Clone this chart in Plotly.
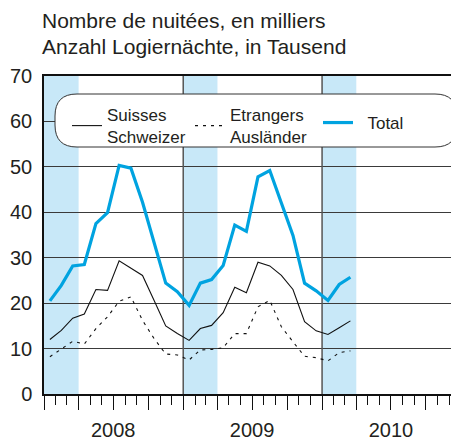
import plotly.graph_objects as go

months = ["2008-01","2008-02","2008-03","2008-04","2008-05","2008-06","2008-07","2008-08","2008-09","2008-10","2008-11","2008-12",
          "2009-01","2009-02","2009-03","2009-04","2009-05","2009-06","2009-07","2009-08","2009-09","2009-10","2009-11","2009-12",
          "2010-01","2010-02","2010-03"]
suisses = [12.0,14.0,16.7,17.6,23.0,22.8,29.3,27.6,26.1,20.6,15.0,13.3,
           11.8,14.4,15.1,17.9,23.5,22.3,29.0,28.2,26.1,23.0,15.9,13.9,
           13.1,14.6,16.1]
etrangers = [8.2,10.0,11.6,11.0,14.4,17.0,20.4,21.4,16.2,12.2,8.8,8.6,
             7.5,9.7,9.8,10.2,13.3,13.3,19.2,20.6,14.8,11.5,8.3,8.0,
             7.3,9.1,9.5]
total = [20.5,23.9,28.2,28.5,37.5,39.9,50.3,49.7,42.2,33.2,24.4,22.5,
         19.5,24.4,25.2,28.3,37.2,35.8,47.8,49.2,41.8,34.9,24.4,22.7,
         20.6,24.1,25.7]
names = ["Suisses<br>Schweizer", "Etrangers<br>Ausländer", "\u00a0\u00a0Total"]
shade_periods = [("2008-01-01","2008-04-01"),("2009-01-01","2009-04-01"),("2010-01-01","2010-04-01")]
year_lines = ["2009-01-01","2010-01-01"]
quarter_ticks = ["2008-01-01","2008-04-01","2008-07-01","2008-10-01","2009-01-01","2009-04-01","2009-07-01","2009-10-01",
                 "2010-01-01","2010-04-01","2010-07-01","2010-10-01","2011-01-01"]
year_label_pos = ["2008-07-01","2009-07-01","2010-07-01"]
year_labels = ["2008","2009","2010"]
title_lines = ["Nombre de nuitées, en milliers", "Anzahl Logiernächte, in Tausend"]
x_range = ["2008-01-01", "2011-01-17"]

TXT = "#231f20"
FONT = "Liberation Sans, Arial, sans-serif"
W, H = 459, 441
OFF = 8                      # page body margin
LV, TV, BOTV = 44, 76, 394   # plot area in window pixels
L, T = LV - OFF, TV - OFF
B = H - (BOTV - OFF)
R = 0
pw, ph = W - L - R, H - T - B

def px(xv):
    return (xv - LV) / pw

def py(yv):
    return (BOTV - yv) / ph

fig = go.Figure()
fig.add_trace(go.Scatter(x=months, y=suisses, name=names[0], mode="lines",
                         line=dict(color="#111111", width=1.1), legend="legend",
                         xperiod="M1", xperiodalignment="middle"))
fig.add_trace(go.Scatter(x=months, y=etrangers, name=names[1], mode="lines",
                         line=dict(color="#111111", width=1.1, dash="3px,5px"), legend="legend",
                         xperiod="M1", xperiodalignment="middle"))
fig.add_trace(go.Scatter(x=months, y=total, name=names[2], mode="lines",
                         line=dict(color="#00a3e0", width=3.2), legend="legend2",
                         xperiod="M1", xperiodalignment="middle"))
fig.add_trace(go.Scatter(x=year_label_pos, y=[None]*3, xaxis="x2", showlegend=False, hoverinfo="skip"))

shapes = []
for a, b in shade_periods:
    shapes.append(dict(type="rect", xref="x", yref="y", x0=a, x1=b, y0=0, y1=70,
                       fillcolor="#c8e8f8", line=dict(width=0), layer="below"))
for d in year_lines:
    shapes.append(dict(type="line", xref="x", yref="y", x0=d, x1=d, y0=0, y1=70,
                       line=dict(color="#555555", width=1.5), layer="between"))

cx, cy = (55 + 457) / 2, (94 + 147) / 2
hw, hh, r = 201, 26.5, 22
path = (f"M{-hw + r},{hh} L{hw - r},{hh} Q{hw},{hh} {hw},{hh - r} L{hw},{-hh + r} Q{hw},{-hh} {hw - r},{-hh} "
        f"L{-hw + r},{-hh} Q{-hw},{-hh} {-hw},{-hh + r} L{-hw},{hh - r} Q{-hw},{hh} {-hw + r},{hh} Z")
shapes.append(dict(type="path", xref="paper", yref="paper", xsizemode="pixel", ysizemode="pixel",
                   xanchor=px(cx), yanchor=py(cy), path=path,
                   fillcolor="white", line=dict(color="#333333", width=1), layer="above"))

annotations = [
    dict(text=title_lines[0], xref="paper", yref="paper", x=px(41), y=py(33),
         xanchor="left", yanchor="bottom", showarrow=False, borderpad=0,
         font=dict(size=21, color=TXT, family=FONT)),
    dict(text=title_lines[1], xref="paper", yref="paper", x=px(41), y=py(59),
         xanchor="left", yanchor="bottom", showarrow=False, borderpad=0,
         font=dict(size=21, color=TXT, family=FONT)),
]

leg_common = dict(orientation="h", xanchor="left", yanchor="middle",
                  bgcolor="rgba(0,0,0,0)", borderwidth=0, font=dict(size=17, color=TXT, family=FONT),
                  valign="middle", tracegroupgap=0, itemclick=False, itemdoubleclick=False)

fig.update_layout(
    width=W, height=H,
    margin=dict(l=L, r=R, t=T, b=B, autoexpand=False),
    paper_bgcolor="white", plot_bgcolor="white",
    font=dict(family=FONT, color=TXT, size=17),
    shapes=shapes, annotations=annotations,
    showlegend=True,
    legend=dict(x=px(67), y=py(126), entrywidth=78, entrywidthmode="pixels", **leg_common),
    legend2=dict(x=px(318), y=py(123), **leg_common),
    xaxis=dict(type="date", range=x_range, showgrid=False, automargin=False,
               showline=True, linecolor="#111111", linewidth=2, mirror=True,
               tickmode="array", tickvals=quarter_ticks, ticks="outside", ticklen=14, tickwidth=1.3,
               tickcolor="#111111", showticklabels=False,
               minor=dict(dtick="M1", ticks="outside", ticklen=9, tickwidth=1, tickcolor="#111111", showgrid=False)),
    xaxis2=dict(type="date", overlaying="x", side="bottom", range=x_range, automargin=False,
                showgrid=False, showline=False, tickmode="array", tickvals=year_label_pos, ticktext=year_labels,
                ticks="outside", ticklen=18, tickcolor="rgba(0,0,0,0)", tickfont=dict(size=20, color=TXT)),
    yaxis=dict(range=[0, 70], tickvals=[0,10,20,30,40,50,60,70], showgrid=True, gridcolor="#3a3a3a", gridwidth=1,
               showline=True, linecolor="#111111", linewidth=1.5, zeroline=False, automargin=False,
               ticks="", tickfont=dict(size=20, color=TXT), ticklabelstandoff=6),
)

fig.write_html("out.html")
